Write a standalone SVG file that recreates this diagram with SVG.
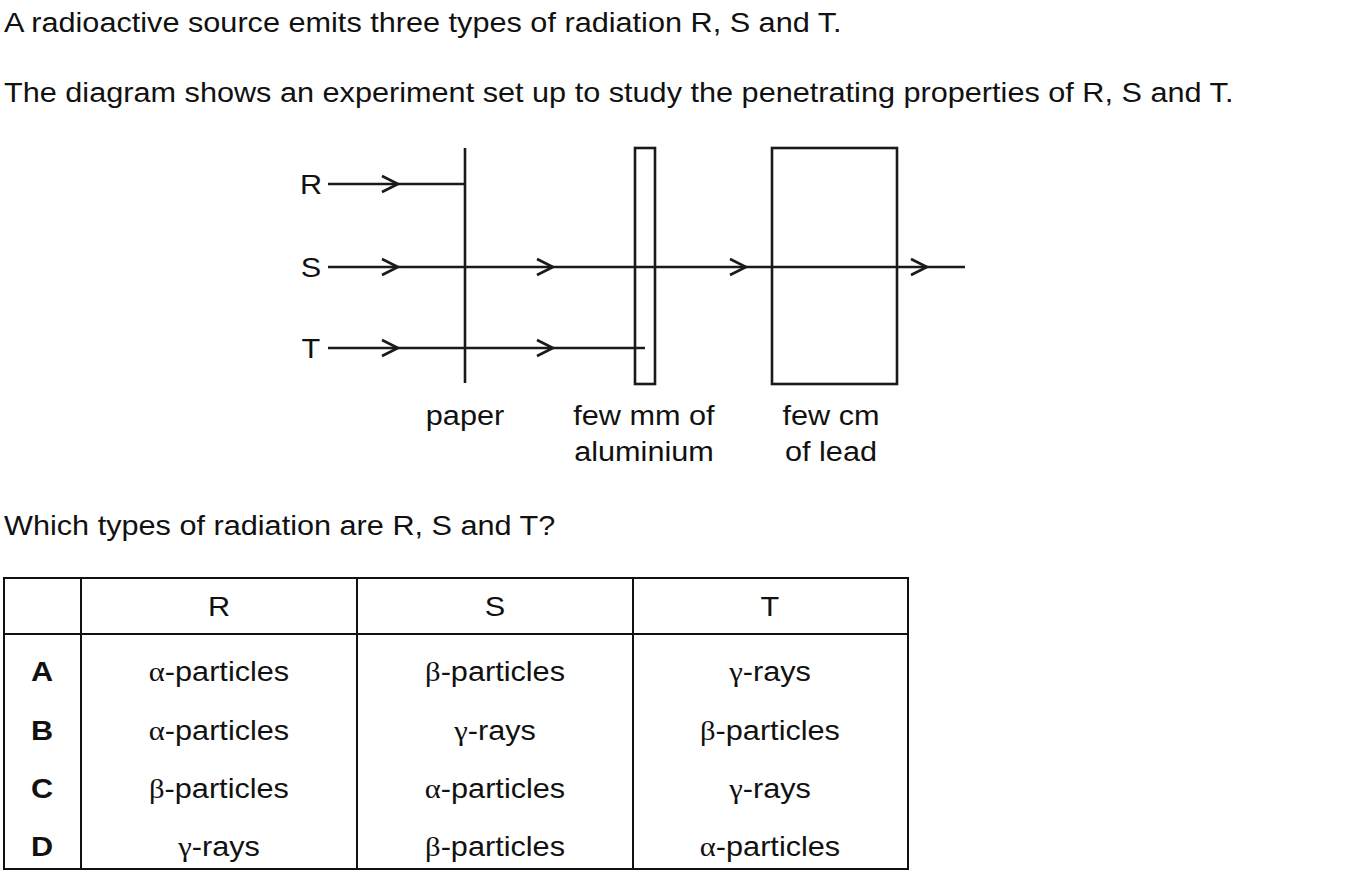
<svg xmlns="http://www.w3.org/2000/svg" width="1355" height="879" viewBox="0 0 1355 879">
<style>
text{font-family:"Liberation Sans",Arial,sans-serif;font-size:27.5px;fill:#111;transform-box:fill-box;transform-origin:50% 50%;transform:scale(1.115,1)}
text.l{transform-origin:0% 50%}
.c{text-anchor:middle}
.b{font-weight:bold}
.g{font-family:"Liberation Serif","Times New Roman",serif}
.ln{stroke:#1a1a1a;stroke-width:2.6;fill:none}
.tb{stroke:#111;stroke-width:2;fill:none}
</style>
<defs>
<path id="chev" d="M-16,-8 L0,0 L-16,8" class="ln"/>
</defs>
<rect width="1355" height="879" fill="#fff"/>
<text class="l" x="4" y="32">A radioactive source emits three types of radiation R, S and T.</text>
<text class="l" x="4" y="102">The diagram shows an experiment set up to study the penetrating properties of R, S and T.</text>

<g id="absorbers">
<g id="paper"><line class="ln" x1="465" y1="148" x2="465" y2="383"/></g>
<g id="aluminium"><rect class="ln" x="635" y="148" width="20" height="236"/></g>
<g id="lead"><rect class="ln" x="772" y="148" width="125" height="236"/></g>
</g>

<g id="connectors">
<line class="ln" x1="328" y1="184" x2="465" y2="184"/>
<line class="ln" x1="328" y1="267" x2="965" y2="267"/>
<line class="ln" x1="328" y1="348" x2="645" y2="348"/>
<use href="#chev" x="398" y="184"/>
<use href="#chev" x="398" y="267"/>
<use href="#chev" x="553" y="267"/>
<use href="#chev" x="746" y="267"/>
<use href="#chev" x="927" y="267"/>
<use href="#chev" x="398" y="348"/>
<use href="#chev" x="553" y="348"/>
</g>

<g id="labels">
<text class="c" x="311" y="194">R</text>
<text class="c" x="311" y="277">S</text>
<text class="c" x="311" y="358">T</text>
<text class="c" x="465" y="425">paper</text>
<text class="c" x="644" y="425">few mm of</text>
<text class="c" x="644" y="461">aluminium</text>
<text class="c" x="831" y="425">few cm</text>
<text class="c" x="831" y="461">of lead</text>
</g>

<text class="l" x="4" y="535">Which types of radiation are R, S and T?</text>

<g id="table">
<rect class="tb" x="4" y="578" width="904" height="291"/>
<line class="tb" x1="4" y1="634" x2="908" y2="634"/>
<line class="tb" x1="81" y1="578" x2="81" y2="869"/>
<line class="tb" x1="357" y1="578" x2="357" y2="869"/>
<line class="tb" x1="633" y1="578" x2="633" y2="869"/>
<text class="c" x="219" y="616">R</text>
<text class="c" x="495" y="616">S</text>
<text class="c" x="770" y="616">T</text>
<text class="c b" x="42" y="681">A</text>
<text class="c b" x="42" y="740">B</text>
<text class="c b" x="42" y="798">C</text>
<text class="c b" x="42" y="856">D</text>
<text class="c" x="219" y="681"><tspan class="g">α</tspan>-particles</text>
<text class="c" x="495" y="681"><tspan class="g">β</tspan>-particles</text>
<text class="c" x="770" y="681"><tspan class="g">γ</tspan>-rays</text>
<text class="c" x="219" y="740"><tspan class="g">α</tspan>-particles</text>
<text class="c" x="495" y="740"><tspan class="g">γ</tspan>-rays</text>
<text class="c" x="770" y="740"><tspan class="g">β</tspan>-particles</text>
<text class="c" x="219" y="798"><tspan class="g">β</tspan>-particles</text>
<text class="c" x="495" y="798"><tspan class="g">α</tspan>-particles</text>
<text class="c" x="770" y="798"><tspan class="g">γ</tspan>-rays</text>
<text class="c" x="219" y="856"><tspan class="g">γ</tspan>-rays</text>
<text class="c" x="495" y="856"><tspan class="g">β</tspan>-particles</text>
<text class="c" x="770" y="856"><tspan class="g">α</tspan>-particles</text>
</g>
</svg>
